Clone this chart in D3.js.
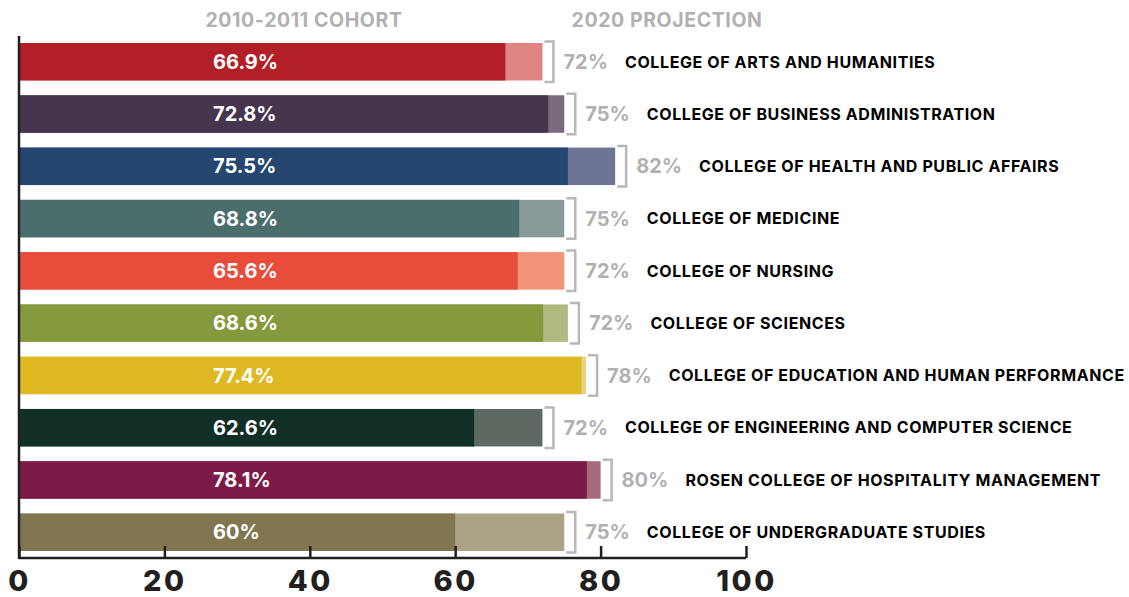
<!DOCTYPE html>
<meta charset="utf-8">
<script src="https://d3js.org/d3.v7.min.js"></script>
<style>
  body { margin: 0; background: #fff; }
  text { font-family: Inter, "DejaVu Sans", sans-serif; font-weight: 700; }
</style>
<div id="my_dataviz"></div>
<script>
  // data (bar lengths as drawn, labels as printed)
  var colleges = [
    "COLLEGE OF ARTS AND HUMANITIES",
    "COLLEGE OF BUSINESS ADMINISTRATION",
    "COLLEGE OF HEALTH AND PUBLIC AFFAIRS",
    "COLLEGE OF MEDICINE",
    "COLLEGE OF NURSING",
    "COLLEGE OF SCIENCES",
    "COLLEGE OF EDUCATION AND HUMAN PERFORMANCE",
    "COLLEGE OF ENGINEERING AND COMPUTER SCIENCE",
    "ROSEN COLLEGE OF HOSPITALITY MANAGEMENT",
    "COLLEGE OF UNDERGRADUATE STUDIES"
  ];
  var cohort = [66.9, 72.8, 75.5, 68.8, 68.6, 72.1, 77.4, 62.6, 78.1, 60];
  var projection = [72, 75, 82, 75, 75, 75.5, 78, 72, 80, 75];
  var cohortLabels = ["66.9%", "72.8%", "75.5%", "68.8%", "65.6%", "68.6%", "77.4%", "62.6%", "78.1%", "60%"];
  var projectionLabels = ["72%", "75%", "82%", "75%", "72%", "72%", "78%", "72%", "80%", "75%"];
  var darkColors = ["#b31f27", "#46354f", "#24466f", "#4b6e6c", "#e84c3b",
                    "#849a3c", "#dfb924", "#112e27", "#7d1b48", "#80764f"];
  var lightColors = ["#e08383", "#7a6a7e", "#6d7496", "#889a9a", "#f29379",
                     "#afba7f", "#edd17e", "#5e6962", "#a66a7e", "#aaa385"];
  var xTicks = [0, 20, 40, 60, 80, 100];
  var headers = ["2010-2011 COHORT", "2020 PROJECTION"];

  var width = 1129, height = 597;
  var gray = "#b1b1b3", ink = "#231f20";

  var svg = d3.select("#my_dataviz")
    .append("svg")
      .attr("width", width)
      .attr("height", height);

  var x = d3.scaleLinear()
    .domain([0, 100])
    .range([19, 746]);

  var y = d3.scaleBand()
    .domain(d3.range(colleges.length))
    .range([43, 551])
    .paddingInner(0.283)
    .paddingOuter(0);

  var rows = svg.append("g")
    .selectAll("g")
    .data(colleges)
    .enter().append("g")
      .attr("transform", function(d, i) { return "translate(0," + y(i) + ")"; });

  var bw = y.bandwidth();

  // projection (light) bar behind
  rows.append("rect")
    .attr("x", x(0))
    .attr("y", 0)
    .attr("width", function(d, i) { return x(projection[i]) - x(0); })
    .attr("height", bw)
    .attr("fill", function(d, i) { return lightColors[i]; });

  // cohort bar
  rows.append("rect")
    .attr("x", x(0))
    .attr("y", 0)
    .attr("width", function(d, i) { return x(cohort[i]) - x(0); })
    .attr("height", bw)
    .attr("fill", function(d, i) { return darkColors[i]; });

  // cohort value
  rows.append("text")
    .attr("x", 213)
    .attr("y", bw / 2)
    .attr("dy", "0.36em")
    .attr("fill", "#fff")
    .style("font-size", "20px")
    .text(function(d, i) { return cohortLabels[i]; });

  // bracket
  rows.append("path")
    .attr("d", function(d, i) {
      var x0 = x(projection[i]) + 2, x1 = x(projection[i]) + 11;
      return "M" + x0 + "," + (-1.5) + "H" + x1 + "V" + (bw + 1.5) + "H" + x0;
    })
    .attr("fill", "none")
    .attr("stroke", "#b8b8ba")
    .attr("stroke-width", 2.5);

  // projection value
  var pLabels = rows.append("text")
    .attr("x", function(d, i) { return x(projection[i]) + 21; })
    .attr("y", bw / 2)
    .attr("dy", "0.36em")
    .attr("fill", gray)
    .style("font-size", "20px")
    .text(function(d, i) { return projectionLabels[i]; });

  // college name
  rows.append("text")
    .attr("x", function(d, i) {
      return x(projection[i]) + 21 + pLabels.nodes()[i].getComputedTextLength() + 17;
    })
    .attr("y", bw / 2)
    .attr("dy", "0.36em")
    .attr("fill", "#000")
    .style("font-size", "16px")
    .style("letter-spacing", "0.6px")
    .text(function(d) { return d; });

  // headers
  svg.append("text")
    .attr("x", 304).attr("y", 27)
    .attr("text-anchor", "middle")
    .attr("fill", gray)
    .style("font-size", "19.5px")
    .style("letter-spacing", "0.6px")
    .text(headers[0]);
  svg.append("text")
    .attr("x", 667).attr("y", 27)
    .attr("text-anchor", "middle")
    .attr("fill", gray)
    .style("font-size", "19.5px")
    .style("letter-spacing", "0.6px")
    .text(headers[1]);

  // x axis
  var xAxis = svg.append("g")
    .attr("transform", "translate(0,558)")
    .call(d3.axisBottom(x).tickValues(xTicks).tickSizeInner(-12).tickSizeOuter(0));
  xAxis.select(".domain").remove();
  xAxis.selectAll(".tick line").attr("stroke", ink).attr("stroke-width", 2.5);
  xAxis.selectAll(".tick text")
    .attr("y", 33).attr("dy", 0)
    .attr("fill", ink)
    .style("font-family", "Inter, sans-serif")
    .style("font-weight", 800)
    .style("font-size", "29px")
    .style("letter-spacing", "2.5px");

  svg.append("line")
    .attr("x1", x(0)).attr("x2", x(100))
    .attr("y1", 558).attr("y2", 558)
    .attr("stroke", ink).attr("stroke-width", 2.5);
  svg.append("line")
    .attr("x1", x(0)).attr("x2", x(0))
    .attr("y1", 36).attr("y2", 559)
    .attr("stroke", ink).attr("stroke-width", 2.5);
</script>
